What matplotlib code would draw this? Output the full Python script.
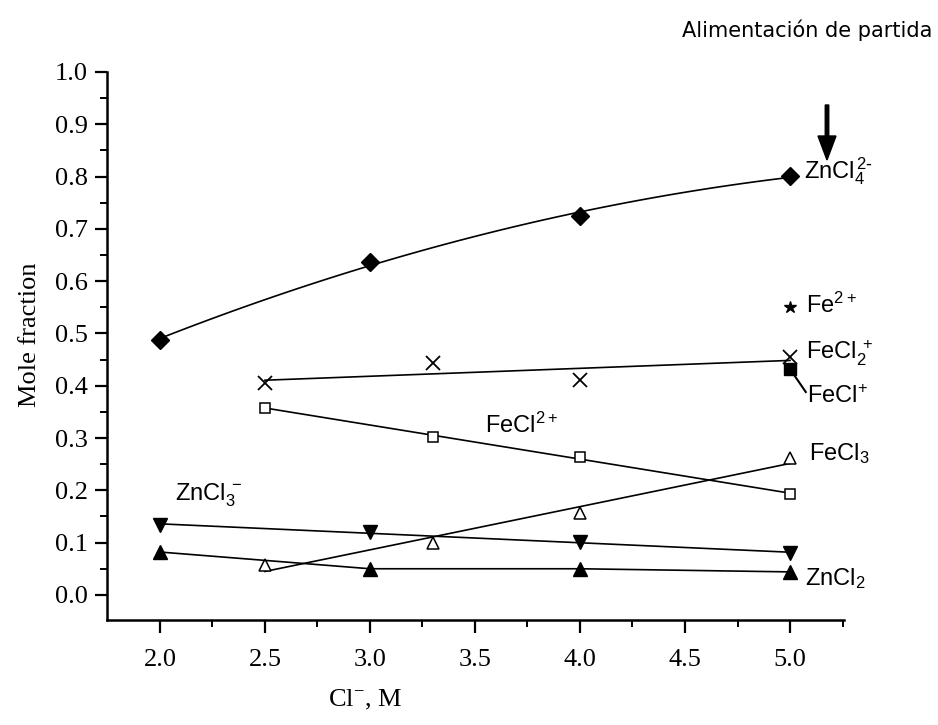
import numpy as np
import matplotlib
matplotlib.use('Agg')
import matplotlib.pyplot as plt

# Cl- concentration (M) and mole fractions of each species
cl_zn = [2.0, 3.0, 4.0, 5.0]
cl_fe = [2.5, 3.3, 4.0, 5.0]

zncl4 = [0.488, 0.637, 0.725, 0.801]
zncl3 = [0.134, 0.120, 0.101, 0.080]
zncl2 = [0.082, 0.050, 0.050, 0.044]

fecl2p = [0.405, 0.444, 0.411, 0.455]     # FeCl2+
fecl2plus = [0.358, 0.302, 0.264, 0.193]  # FeCl^2+
fecl3 = [0.057, 0.100, 0.157, 0.262]

fe2_x, fe2_y = 5.0, 0.55
fecl_x, fecl_y = 5.0, 0.432

fig = plt.figure(figsize=(9.38, 7.25), dpi=100)
ax = fig.add_axes([107/938, 1-620/725, (844-107)/938, (620-72)/725])

lw = 1.2
# fitted curves
xs = np.linspace(2.0, 5.0, 100)
c = np.polyfit(cl_zn, zncl4, 2)
ax.plot(xs, np.polyval(c, xs), 'k-', lw=lw)
ax.plot(cl_zn, zncl4, 'kD', ms=9)

xf = np.array([2.5, 5.0])
c = np.polyfit(cl_fe, fecl2p, 1)
ax.plot(xf, np.polyval(c, xf), 'k-', lw=lw)
ax.plot(cl_fe, fecl2p, 'kx', ms=10, mew=1.3)

c = np.polyfit(cl_fe, fecl2plus, 1)
ax.plot(xf, np.polyval(c, xf), 'k-', lw=lw)
ax.plot(cl_fe, fecl2plus, 'ks', ms=7, mfc='white', mew=1.1)

c = np.polyfit(cl_fe, fecl3, 1)
ax.plot(xf, np.polyval(c, xf), 'k-', lw=lw)
ax.plot(cl_fe, fecl3, 'k^', ms=9, mfc='white', mew=1.1)

xz = np.array([2.0, 5.0])
c = np.polyfit(cl_zn, zncl3, 1)
ax.plot(xz, np.polyval(c, xz), 'k-', lw=lw)
ax.plot(cl_zn, zncl3, 'kv', ms=10)

ax.plot(cl_zn, zncl2, 'k-', lw=lw)
ax.plot(cl_zn, zncl2, 'k^', ms=10)

ax.plot(fe2_x, fe2_y, 'k*', ms=9)
ax.plot(fecl_x, fecl_y, 'ks', ms=8)
ax.plot([fecl_x, 5.075], [fecl_y, 0.388], 'k-', lw=1.5)

# species labels
lab = dict(fontsize=17, family='Liberation Sans', va='center')
ax.text(5.065, 0.81, r'$\mathregular{ZnCl_4^{\,2\text{-}}}$', **lab)
ax.text(5.075, 0.553, r'$\mathregular{Fe^{2+}}$', **lab)
ax.text(5.075, 0.462, r'$\mathregular{FeCl_2^{\,+}}$', **lab)
ax.text(5.08, 0.38, r'$\mathregular{FeCl^{+}}$', **lab)
ax.text(5.09, 0.27, r'$\mathregular{FeCl_3}$', **lab)
ax.text(3.55, 0.325, r'$\mathregular{FeCl^{2+}}$', **lab)
ax.text(2.07, 0.19, r'$\mathregular{ZnCl_3^{\,-}}$', **lab)
ax.text(5.07, 0.032, r'$\mathregular{ZnCl_2}$', **lab)

ax.set_xlim(1.748, 5.257)
ax.set_ylim(-0.048, 1.0)
ax.set_xticks([2.0, 2.5, 3.0, 3.5, 4.0, 4.5, 5.0])
ax.set_xticks(np.arange(2.25, 5.3, 0.5), minor=True)
ax.set_yticks(np.arange(0, 1.01, 0.1))
ax.set_yticks(np.arange(0.05, 1.0, 0.1), minor=True)
ax.xaxis.set_major_formatter(matplotlib.ticker.FormatStrFormatter('%.1f'))
ax.yaxis.set_major_formatter(matplotlib.ticker.FormatStrFormatter('%.1f'))

for s in ['top', 'right']:
    ax.spines[s].set_visible(False)
for s in ['left', 'bottom']:
    ax.spines[s].set_linewidth(1.8)
ax.tick_params(which='major', length=9, width=1.6, labelsize=19)
ax.tick_params(axis='x', pad=12)
ax.tick_params(axis='y', pad=5)
ax.tick_params(which='minor', length=5, width=1.4)
for t in ax.get_xticklabels() + ax.get_yticklabels():
    t.set_family('Liberation Serif')

fig.text(30/938, 1-335/725, 'Mole fraction', rotation=90, ha='center',
         va='center', fontsize=19, family='Liberation Serif')
fig.text(365/938, 1-700/725, r'Cl$^{\mathregular{-}}$, M', ha='center',
         va='center', fontsize=19, family='Liberation Serif')

fig.text(807/938, 1-30/725, 'Alimentación de partida', ha='center',
         va='center', fontsize=15, family='DejaVu Sans')
fig.patches.append(matplotlib.patches.FancyArrow(
    827/938, 1-105/725, 0, -55/725, width=3.5/938, head_width=18/938,
    head_length=24/725, length_includes_head=True, color='black',
    transform=fig.transFigure))

fig.savefig('out.png', dpi=100)
